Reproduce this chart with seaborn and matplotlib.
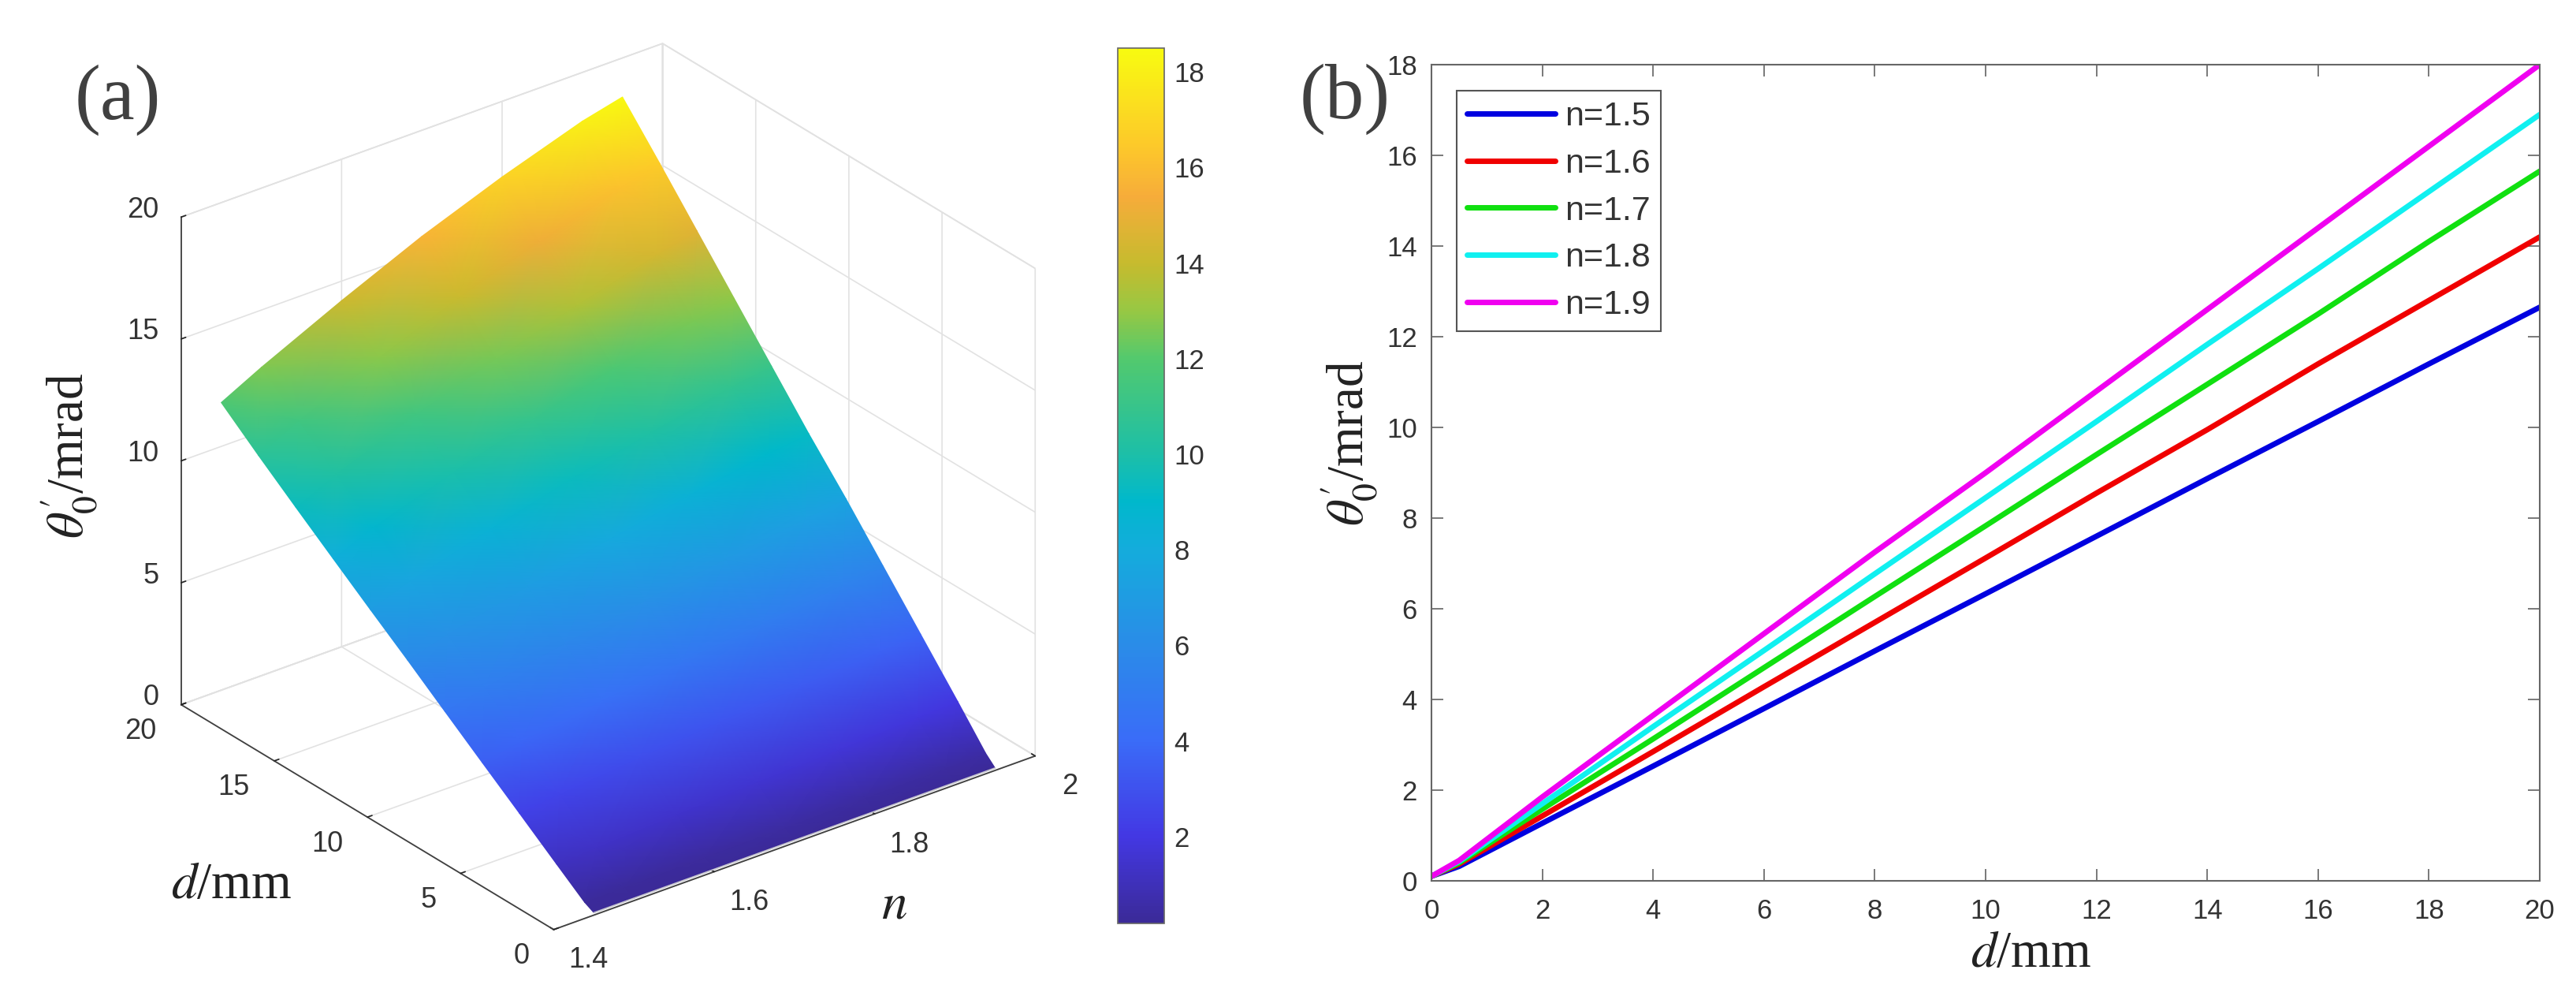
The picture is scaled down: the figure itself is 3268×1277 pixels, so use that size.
import numpy as np
import pandas as pd
import matplotlib
matplotlib.use('Agg')
import matplotlib.pyplot as plt
import seaborn as sns
from matplotlib.colors import LinearSegmentedColormap, Normalize
from matplotlib.cm import ScalarMappable
from mpl_toolkits.mplot3d import proj3d

# --- values ---
d_values = [0, 0.5, 2, 4, 6, 8, 10, 12, 14, 16, 18, 20]
theta_n145 = [0.1, 0.30, 1.17, 2.34, 3.50, 4.67, 5.85, 7.00, 8.17, 9.35, 10.55, 11.80]
theta_n15 = [0.1, 0.32, 1.27, 2.53, 3.80, 5.07, 6.33, 7.60, 8.87, 10.13, 11.40, 12.65]
theta_n16 = [0.1, 0.37, 1.43, 2.85, 4.28, 5.70, 7.12, 8.55, 9.95, 11.40, 12.80, 14.20]
theta_n17 = [0.1, 0.40, 1.58, 3.13, 4.70, 6.27, 7.83, 9.40, 10.95, 12.50, 14.10, 15.65]
theta_n18 = [0.1, 0.43, 1.70, 3.40, 5.08, 6.77, 8.45, 10.13, 11.83, 13.50, 15.20, 16.90]
theta_n19 = [0.1, 0.45, 1.85, 3.65, 5.45, 7.25, 9.00, 10.80, 12.60, 14.40, 16.20, 18.00]
theta_n195 = [0.1, 0.47, 1.90, 3.75, 5.60, 7.45, 9.20, 11.05, 12.90, 14.75, 16.60, 18.40]

surface_n = [1.45, 1.5, 1.6, 1.7, 1.8, 1.9, 1.95]
surface_theta = [theta_n145, theta_n15, theta_n16, theta_n17, theta_n18, theta_n19, theta_n195]

line_labels = ['n=1.5', 'n=1.6', 'n=1.7', 'n=1.8', 'n=1.9']
line_series = [theta_n15, theta_n16, theta_n17, theta_n18, theta_n19]
line_colors = ['#0000e0', '#f00000', '#10e010', '#10f0f0', '#f000f0']

n_ticks = [1.4, 1.6, 1.8, 2]
n_tick_labels = ['1.4', '1.6', '1.8', '2']
d_ticks = [0, 5, 10, 15, 20]
z_ticks = [0, 5, 10, 15, 20]

cbar_min, cbar_max = 0.18, 18.5
cmap_values = [0.18, 2, 4, 6, 8, 9, 10, 12, 13, 14, 15.4, 16.5, 18.5]
cmap_colors = ['#3b2a98', '#4338e4', '#3a6cf8', '#2a8ce8', '#14acdc', '#00b8cc', '#1cbfa8',
               '#52c96e', '#96c844', '#c6bb2e', '#f6ac3a', '#fdc92a', '#f8fb10']

W, H = 3268, 1277
DARK = '#333333'

sns.set_theme(style='white', rc={'grid.color': '#e2e2e2', 'grid.linewidth': 1.2})
plt.rcParams['font.family'] = ['Liberation Sans', 'DejaVu Sans']
plt.rcParams['mathtext.fontset'] = 'stix'

fig = plt.figure(figsize=(W / 100, H / 100), dpi=100, facecolor='white')


def fx(px):
    return px / W


def fy(px):
    return 1 - px / H


stops = [(v - cbar_min) / (cbar_max - cbar_min) for v in cmap_values]
parula = LinearSegmentedColormap.from_list('parula_like', list(zip(stops, cmap_colors)))
norm = Normalize(cbar_min, cbar_max)

# ==========================================
# PANEL A: 3D surface
# ==========================================
size = 1259
ax3 = fig.add_axes([125 / W, 13.5 / H, size / W, size / H], projection='3d')
ax3.set_proj_type('ortho')
ax3.view_init(elev=27.8, azim=-127.7)
ax3.set_box_aspect((772, 773, 699))
ax3.set_xlim(1.4, 2, view_margin=0)
ax3.set_ylim(0, 20, view_margin=0)
ax3.set_zlim(0, 20, view_margin=0)
ax3.set_xticks(n_ticks)
ax3.set_yticks(d_ticks)
ax3.set_zticks(z_ticks)
ax3.set_xticklabels([])
ax3.set_yticklabels([])
ax3.set_zticklabels([])
ax3.patch.set_alpha(0)
for axis in (ax3.xaxis, ax3.yaxis, ax3.zaxis):
    axis.set_pane_color((1, 1, 1, 1))
    axis.pane.set_edgecolor('#dcdcdc')
    axis.pane.set_linewidth(1.2)
    axis.line.set_color('#404040')
    axis.line.set_linewidth(1.3)
    axis._axinfo['tick'].update(inward_factor=0.0, outward_factor=0.12)
    axis._axinfo['tick']['color'] = '#404040'

overlay = fig.add_axes(ax3.get_position().bounds)
overlay.set_xlim(ax3.viewLim.intervalx)
overlay.set_ylim(ax3.viewLim.intervaly)
overlay.axis('off')


def project(x, y, z):
    # library's own 3D projection, so the 2D overlay lands on the 3D box
    sx, sy, _ = proj3d.proj_transform(np.ravel(x), np.ravel(y), np.ravel(z), ax3.get_proj())
    return np.reshape(sx, np.shape(x)), np.reshape(sy, np.shape(x))


# surface: the renderer shades between the read values
nn, dd = np.meshgrid(surface_n, d_values, indexing='ij')
zz = np.array(surface_theta)
sx, sy = project(nn, dd, zz)
overlay.pcolormesh(sx, sy, zz, shading='gouraud', cmap=parula, norm=norm)
# pale rim along the d=0 edge
overlay.plot(sx[:, 0], sy[:, 0], color='#c8c8d0', linewidth=1.2)


# tick labels of the 3D box, offsets in pixels of the picture
def tick_label(x, y, z, text, dx, dy, ha):
    tx, ty = project(np.array([x]), np.array([y]), np.array([z]))
    overlay.annotate(text, (tx[0], ty[0]), xytext=(dx * 0.72, -dy * 0.72), textcoords='offset points',
                     fontsize=26, color=DARK, ha=ha, va='center', annotation_clip=False)


for v, lab in zip(n_ticks, n_tick_labels):
    tick_label(v, 0, 0, lab, 44, 39, 'center')
for v in d_ticks:
    tick_label(1.4, v, 0, str(v), -31, 34, 'right')
for v in z_ticks:
    tick_label(1.4, 20, v, str(v), -28, -9, 'right')

cax = fig.add_axes([fx(1418), fy(1171), 59 / W, 1110 / H])
cbar = fig.colorbar(ScalarMappable(norm=norm, cmap=parula), cax=cax)
cbar.set_ticks([2, 4, 6, 8, 10, 12, 14, 16, 18])
cbar.ax.tick_params(direction='in', length=8, width=1.1, color='#404040', labelsize=25, labelcolor=DARK, pad=9)
cbar.outline.set_edgecolor('#666666')
cbar.outline.set_linewidth(1.2)

# ==========================================
# PANEL B: lines
# ==========================================
ax = fig.add_axes([fx(1816), fy(1117), 1406 / W, 1035 / H])
long_df = pd.DataFrame({
    'd': np.tile(d_values, len(line_labels)),
    'theta': np.concatenate(line_series),
    'n': np.repeat(line_labels, len(d_values)),
})
sns.lineplot(data=long_df, x='d', y='theta', hue='n', palette=line_colors, linewidth=5, ax=ax)
ax.set_xlim(0, 20)
ax.set_ylim(0, 18)
ax.set_xticks(range(0, 21, 2))
ax.set_yticks(range(0, 19, 2))
ax.set_xlabel('')
ax.set_ylabel('')
ax.tick_params(direction='in', length=10.5, width=1.1, color='#555555', top=True, right=True,
               bottom=True, left=True, labelsize=25, labelcolor=DARK)
ax.tick_params(axis='x', pad=16)
ax.tick_params(axis='y', pad=13)
for spine in ax.spines.values():
    spine.set_color('#666666')
    spine.set_linewidth(1.5)

ax.legend(loc='upper left', bbox_to_anchor=(32 / 1406, 1 - 33 / 1035), borderaxespad=0, fontsize=31,
          title=None, fancybox=False, framealpha=1, edgecolor='#555555', labelspacing=0.46,
          handlelength=2.6, handletextpad=0.28, borderpad=0.3, labelcolor=DARK)
ax.get_legend().get_frame().set_linewidth(1.5)

# --- labels placed as in the picture ---
serif = ['Liberation Serif', 'DejaVu Serif']
fig.text(fx(149), fy(127), '(a)', fontsize=71, family=serif, color='#404040', ha='center', va='center')
fig.text(fx(1706), fy(126), '(b)', fontsize=71, family=serif, color='#404040', ha='center', va='center', zorder=5)
ylab = r"$\theta_{0}^{\prime}$/mrad"
fig.text(fx(88), fy(578), ylab, fontsize=47, family=serif, color='#222222', rotation=90, ha='center', va='center')
fig.text(fx(1712), fy(562), ylab, fontsize=47, family=serif, color='#222222', rotation=90, ha='center', va='center')
fig.text(fx(294), fy(1123), '$d$/mm', fontsize=47, family=serif, color='#222222', ha='center', va='center')
fig.text(fx(2577), fy(1210), '$d$/mm', fontsize=47, family=serif, color='#222222', ha='center', va='center')
fig.text(fx(1134), fy(1149), '$n$', fontsize=47, family=serif, color='#222222', ha='center', va='center')

fig.savefig('out.png', dpi=100)
